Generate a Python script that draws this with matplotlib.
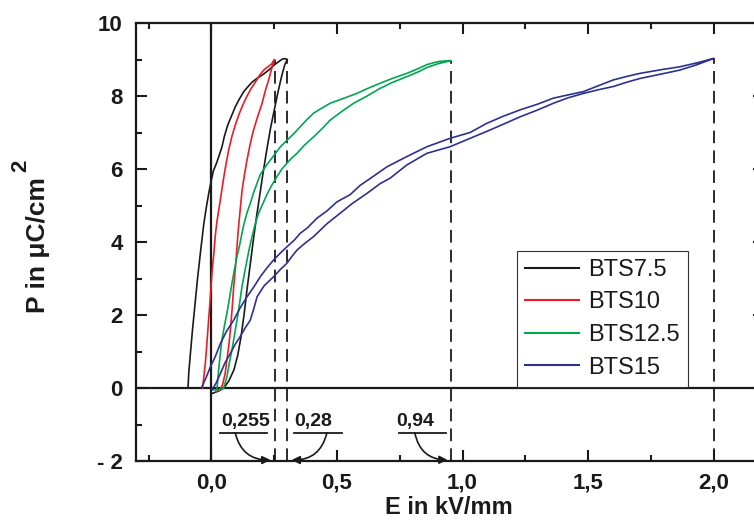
import matplotlib
matplotlib.use("Agg")
import matplotlib.pyplot as plt

plt.rcParams['font.family'] = ['Liberation Sans', 'DejaVu Sans']

# ---------------- data ----------------
labels = ["BTS7.5", "BTS10", "BTS12.5", "BTS15"]
colors = ["#1a1a1a", "#ed1c24", "#00a651", "#2e3192"]

bts75_x = [0.003, 0.03, 0.05, 0.07, 0.09, 0.105, 0.118, 0.13, 0.142, 0.155, 0.168, 0.18,
           0.193, 0.206, 0.22, 0.235, 0.25, 0.265, 0.28, 0.292, 0.30, 0.303, 0.295, 0.285,
           0.27, 0.25, 0.23, 0.208, 0.185, 0.162, 0.145, 0.129, 0.11, 0.095, 0.08, 0.065,
           0.052, 0.042, 0.03, 0.02, 0.008, 0.0, -0.01, -0.02, -0.03, -0.042, -0.055, -0.065,
           -0.075, -0.084, -0.09, -0.093]
bts75_y = [-0.15, -0.08, 0.0, 0.2, 0.5, 0.9, 1.4, 2.0, 2.7, 3.4, 4.1, 4.7,
           5.3, 5.9, 6.5, 7.1, 7.6, 8.1, 8.55, 8.85, 8.97, 9.0, 9.02, 9.02,
           8.95, 8.85, 8.72, 8.6, 8.5, 8.38, 8.25, 8.12, 7.9, 7.7, 7.45, 7.2,
           6.9, 6.6, 6.35, 6.15, 5.95, 5.7, 5.35, 4.95, 4.5, 3.8, 3.0, 2.3,
           1.6, 0.9, 0.4, 0.0]

bts10_x = [0.018, 0.035, 0.045, 0.055, 0.062, 0.07, 0.076, 0.083, 0.089, 0.096, 0.102,
           0.108, 0.115, 0.122, 0.132, 0.142, 0.155, 0.168, 0.185, 0.202, 0.215, 0.228,
           0.24, 0.248, 0.252, 0.24, 0.225, 0.21, 0.195, 0.175, 0.158, 0.142, 0.125, 0.11,
           0.095, 0.082, 0.07, 0.06, 0.05, 0.04, 0.03, 0.023, 0.016, 0.01, 0.003, -0.004,
           -0.011, -0.018, -0.024, -0.03, -0.035]
bts10_y = [-0.1, -0.05, 0.1, 0.4, 0.77, 1.2, 1.6, 2.2, 2.78, 3.3, 3.87,
           4.4, 4.9, 5.4, 5.85, 6.25, 6.7, 7.07, 7.45, 7.8, 8.15, 8.44,
           8.75, 8.95, 9.0, 8.88, 8.8, 8.72, 8.6, 8.38, 8.2, 8.0, 7.75, 7.5,
           7.2, 6.9, 6.55, 6.2, 5.8, 5.35, 4.9, 4.6, 4.2, 3.7, 3.2, 2.5,
           1.86, 1.2, 0.68, 0.3, 0.0]

bts125_x = [0.01, 0.03, 0.049, 0.062, 0.072, 0.082, 0.092, 0.102, 0.112, 0.122, 0.132,
            0.142, 0.152, 0.162, 0.175, 0.188, 0.205, 0.221, 0.24, 0.261, 0.281, 0.301,
            0.32, 0.341, 0.37, 0.407, 0.44, 0.473, 0.52, 0.566, 0.62, 0.672, 0.72, 0.778,
            0.82, 0.858, 0.9, 0.93, 0.954,
            0.93, 0.9, 0.858, 0.82, 0.778, 0.72, 0.672, 0.62, 0.579, 0.52, 0.473, 0.44,
            0.407, 0.38, 0.354, 0.33, 0.301, 0.274, 0.25, 0.23, 0.215, 0.195, 0.182, 0.168,
            0.155, 0.142, 0.13, 0.122, 0.112, 0.102, 0.092, 0.082, 0.072, 0.062, 0.052,
            0.042, 0.035, 0.029, 0.025, 0.023]
bts125_y = [-0.05, -0.05, 0.0, 0.31, 0.7, 1.04, 1.45, 1.86, 2.3, 2.78, 3.15,
            3.51, 3.85, 4.15, 4.5, 4.79, 5.05, 5.3, 5.55, 5.79, 6.0, 6.16,
            6.3, 6.43, 6.65, 6.88, 7.1, 7.34, 7.58, 7.8, 8.0, 8.21, 8.37, 8.53,
            8.65, 8.78, 8.88, 8.93, 8.97,
            8.96, 8.94, 8.86, 8.74, 8.62, 8.48, 8.35, 8.2, 8.07, 7.92, 7.8, 7.67,
            7.53, 7.35, 7.16, 6.98, 6.79, 6.6, 6.38, 6.2, 6.06, 5.85, 5.61, 5.35,
            5.06, 4.8, 4.5, 4.24, 3.9, 3.6, 3.25, 2.87, 2.45, 2.05, 1.7,
            1.32, 0.9, 0.49, 0.2, 0.0]

bts15_x = [0.003, 0.02, 0.036, 0.055, 0.076, 0.095, 0.115, 0.135, 0.155, 0.17, 0.182, 0.21,
           0.248, 0.275, 0.301, 0.32, 0.341, 0.37, 0.407, 0.46, 0.513, 0.56, 0.619, 0.672,
           0.712, 0.778, 0.858, 0.95, 1.03, 1.096, 1.16, 1.229, 1.3, 1.361, 1.42, 1.481,
           1.54, 1.6, 1.65, 1.706, 1.79, 1.865, 1.93, 2.0,
           1.94, 1.865, 1.79, 1.706, 1.65, 1.6, 1.54, 1.481, 1.42, 1.361, 1.3, 1.229,
           1.16, 1.096, 1.03, 0.95, 0.858, 0.778, 0.699, 0.645, 0.592, 0.553, 0.5, 0.46,
           0.42, 0.381, 0.354, 0.33, 0.301, 0.275, 0.248, 0.22, 0.195, 0.17, 0.142, 0.115,
           0.089, 0.06, 0.036, 0.015, -0.004, -0.02, -0.037]
bts15_y = [-0.05, 0.15, 0.4, 0.7, 0.95, 1.2, 1.41, 1.65, 1.86, 2.2, 2.5, 2.8,
           3.05, 3.25, 3.42, 3.6, 3.78, 3.95, 4.15, 4.5, 4.79, 5.05, 5.33, 5.6,
           5.75, 6.11, 6.43, 6.61, 6.84, 7.03, 7.22, 7.43, 7.62, 7.8, 7.95, 8.07,
           8.17, 8.26, 8.37, 8.48, 8.6, 8.71, 8.85, 9.03,
           8.92, 8.8, 8.72, 8.62, 8.53, 8.44, 8.28, 8.12, 8.03, 7.94, 7.78, 7.62,
           7.44, 7.25, 7.0, 6.84, 6.61, 6.34, 6.06, 5.8, 5.55, 5.3, 5.1, 4.85,
           4.65, 4.38, 4.24, 4.05, 3.87, 3.7, 3.51, 3.28, 3.05, 2.78, 2.5, 2.2,
           1.86, 1.55, 1.22, 0.85, 0.58, 0.3, 0.04]

series_x = [bts75_x, bts10_x, bts125_x, bts15_x]
series_y = [bts75_y, bts10_y, bts125_y, bts15_y]

# dashed markers at the loop maxima
emax = [0.255, 0.30, 0.954, 2.0]
pmax = [9.0, 9.0, 8.97, 9.03]

# annotations
ann_text = ["0,255", "0,28", "0,94"]
ann_text_x = [0.135, 0.405, 0.81]
ann_text_y = [-0.93, -0.93, -0.93]
ann_line_x0 = [0.036, 0.33, 0.745]
ann_line_x1 = [0.22, 0.52, 0.935]
ann_line_y = [-1.23, -1.23, -1.23]
ann_start_x = [0.095, 0.46, 0.81]
ann_end_x = [0.235, 0.32, 0.94]
ann_end_y = [-1.97, -1.97, -1.97]
ann_rad = [0.4, -0.4, 0.4]

xticks = [0.0, 0.5, 1.0, 1.5, 2.0]
xticklabels = ["0,0", "0,5", "1,0", "1,5", "2,0"]
yticks = [-2, 0, 2, 4, 6, 8, 10]
yticklabels = ["- 2", "0", "2", "4", "6", "8", "10"]

# ---------------- figure ----------------
W, H = 754, 526
fig = plt.figure(figsize=(W / 100, H / 100), dpi=100)
ax = fig.add_axes([136 / W, 65 / H, 628 / W, 438 / H])
ax.set_xlim(-0.3, 2.2)
ax.set_ylim(-2, 10)

# zero lines
ax.axhline(0, color="#1a1a1a", lw=1.6, zorder=1)
ax.axvline(0, color="#1a1a1a", lw=1.6, zorder=1)

# dashed lines
for xm, pm in zip(emax, pmax):
    ax.plot([xm, xm], [-2, pm], color="#1a1a1a", lw=1.3, dashes=(7, 4), zorder=2)

for xs, ys, c, lab in zip(series_x, series_y, colors, labels):
    ax.plot(xs, ys, color=c, lw=1.2, label=lab, zorder=3)

# annotations
for t, tx, ty, lx0, lx1, ly, sx, ex, ey, rad in zip(ann_text, ann_text_x, ann_text_y,
                                                     ann_line_x0, ann_line_x1, ann_line_y,
                                                     ann_start_x, ann_end_x, ann_end_y, ann_rad):
    ax.text(tx, ty, t, ha="center", va="center", fontsize=14, fontweight="bold", color="#1a1a1a")
    ax.plot([lx0, lx1], [ly, ly], color="#1a1a1a", lw=1.3)
    ax.annotate("", xy=(ex, ey), xytext=(sx, ly),
                arrowprops=dict(arrowstyle="-|>", connectionstyle=f"arc3,rad={rad}",
                                lw=1.2, color="#1a1a1a", mutation_scale=12,
                                shrinkA=0, shrinkB=0))

# ticks
ax.set_xticks(xticks)
ax.set_xticklabels(xticklabels)
ax.set_xticks([-0.25, 0.25, 0.75, 1.25, 1.75], minor=True)
ax.set_yticks(yticks)
ax.set_yticklabels(yticklabels)
ax.set_yticks([-1, 1, 3, 5, 7, 9], minor=True)
ax.tick_params(which="both", direction="in", top=True, right=True, width=1.5, color="#1a1a1a")
ax.tick_params(which="major", length=8)
ax.tick_params(which="minor", length=4.5)
ax.tick_params(axis="x", which="major", pad=8, labelsize=16)
ax.tick_params(axis="y", which="major", pad=9.5, labelsize=16)
for lbl in ax.get_xticklabels() + ax.get_yticklabels():
    lbl.set_fontweight("bold")
    lbl.set_color("#1a1a1a")
for sp in ax.spines.values():
    sp.set_linewidth(1.6)
    sp.set_color("#1a1a1a")

# axis labels
fig.text(449 / W, 1 - 507 / H, "E in kV/mm", ha="center", va="center",
         fontsize=17, fontweight="bold", color="#1a1a1a")
fig.text(38 / W, 1 - 245 / H, "P in μC/cm", ha="center", va="center", rotation=90,
         fontsize=19, fontweight="bold", color="#1a1a1a")
fig.text(21 / W, 1 - 166 / H, "2", ha="center", va="center", rotation=90,
         fontsize=16, fontweight="bold", color="#1a1a1a")

# legend
leg = ax.legend(loc="lower left", bbox_to_anchor=(0.607, 0.169), fontsize=17,
                frameon=True, fancybox=False, framealpha=1, edgecolor="#333333",
                handlelength=2.25, handletextpad=0.4, labelspacing=0.45,
                borderpad=0.35, borderaxespad=0)
leg.get_frame().set_linewidth(0.8)
for t in leg.get_texts():
    t.set_color("#1a1a1a")
for l in leg.get_lines():
    l.set_linewidth(1.5)

fig.savefig("out.png", dpi=100)
